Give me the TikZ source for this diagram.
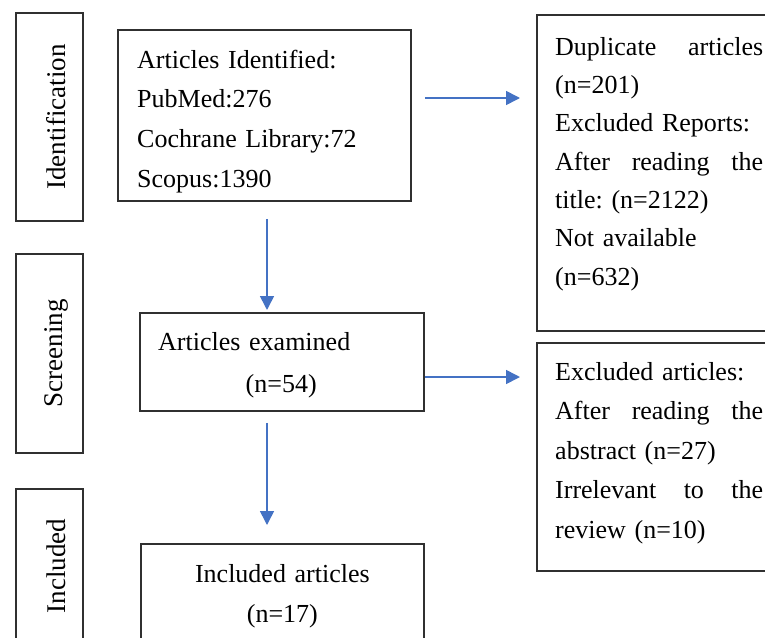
\documentclass[tikz,border=0pt]{standalone}
\usepackage{fontspec}
\setmainfont{Liberation Serif}
\frenchspacing
\usetikzlibrary{arrows.meta,positioning}
\definecolor{Frame}{HTML}{303030}
\definecolor{FlowBlue}{HTML}{4472C4}

\begin{document}
\begin{tikzpicture}[x=1pt, y=-1pt,
  phase/.style={draw=Frame, line width=1.8pt, anchor=north west, inner sep=0pt,
    minimum width=67pt},
  stage/.style={draw=Frame, line width=1.8pt, anchor=north west, inner sep=0pt},
  tag/.style={rotate=90, inner sep=0pt, font=\fontsize{27}{30}\selectfont},
  words/.style={inner sep=0pt, align=left, execute at begin node=\strut},
  flow/.style={-{Triangle[length=14pt, width=14pt]}, line width=1.6pt, draw=FlowBlue}
]
  \useasboundingbox (0,0) rectangle (765,637);
  \clip (0,0) rectangle (765,637);

  % phases
  \node[phase, minimum height=208pt] (ident) at (15,12) {};
  \node[phase, minimum height=199pt] (screen) at (15,253) {};
  \node[phase, minimum height=154pt] (incl) at (15,488) {};
  \node[tag] (identtag) at ([xshift=7pt]ident.center) {Identification};
  \node[tag] (screentag) at ([xshift=7pt]screen.center) {Screening};
  \node[tag] (incltag) at ([xshift=7pt]incl.center) {Included};

  % stages
  \node[stage, minimum width=293pt, minimum height=171pt] (found) at (117,29) {};
  \node[stage, minimum width=284pt, minimum height=98pt] (screened) at (139,312) {};
  \node[stage, minimum width=283pt, minimum height=120pt] (kept) at (140,543) {};
  \node[stage, minimum width=245pt, minimum height=316pt] (dropped) at (536,14) {};
  \node[stage, minimum width=245pt, minimum height=228pt] (excluded) at (536,342) {};

  \node[words, text width=260pt, font=\fontsize{26}{39.7}\selectfont,
    below right=11.2pt and 20pt of found.north west] (foundtxt)
    {Articles Identified:\\PubMed:276\\Cochrane Library:72\\Scopus:1390};
  \node[words, text width=246pt, font=\fontsize{26}{42}\selectfont,
    below right=8.6pt and 19pt of screened.north west] (screenedtxt)
    {Articles examined\\\hfill(n=54)\hfill\null};
  \node[words, align=center, text width=283pt, font=\fontsize{26}{40}\selectfont,
    below=11pt of kept.north] (kepttxt)
    {Included articles\\(n=17)};
  \node[words, text width=208pt, font=\fontsize{26}{38.3}\selectfont,
    below right=14.2pt and 19pt of dropped.north west] (droppedtxt)
    {Duplicate\hfill articles\\(n=201)\\Excluded Reports:\\After\hfill reading\hfill the\\title: (n=2122)\\Not available\\(n=632)};
  \node[words, text width=208pt, font=\fontsize{26}{39.5}\selectfont,
    below right=10.35pt and 19pt of excluded.north west] (excludedtxt)
    {Excluded articles:\\After\hfill reading\hfill the\\abstract (n=27)\\Irrelevant\hfill to\hfill the\\review (n=10)};

  % arrows
  \coordinate (spine) at (267,0);
  \coordinate (row1) at (0,98);
  \coordinate (row2) at (0,377);
  \draw[flow, shorten <=17pt, shorten >=2pt] (found.south -| spine) -- (screened.north -| spine);
  \draw[flow, shorten <=11pt, shorten >=18pt] (screened.south -| spine) -- (kept.north -| spine);
  \draw[flow, shorten <=13pt, shorten >=16pt] (found.east |- row1) -- (dropped.west |- row1);
  \draw[flow, shorten >=16pt] (screened.east |- row2) -- (excluded.west |- row2);
\end{tikzpicture}
\end{document}
